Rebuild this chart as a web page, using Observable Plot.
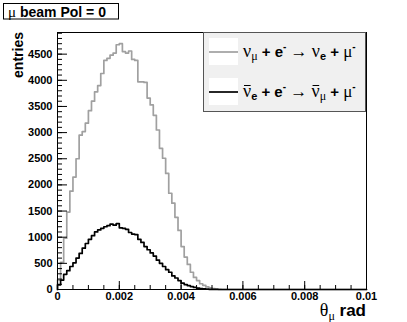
<!DOCTYPE html>
<html><head><meta charset="utf-8">
<script src="https://cdn.jsdelivr.net/npm/d3@7"></script>
<script src="https://cdn.jsdelivr.net/npm/@observablehq/plot@0.6"></script>
<style>body{margin:0;background:#fff} svg{display:block}</style>
</head><body><div id="chart"></div>
<script>
// histogram: 100 bins of width 0.0001 rad on [0, 0.01]; bins not listed are empty
const binWidth = 0.0001;
const xRange = [0, 0.01];
const yMax = 4914;
const nuMuCounts = [180, 520, 980, 1480, 1880, 2150, 2500, 2950, 3020, 3180, 3420, 3600, 3780, 3900, 4130, 4380, 4420, 4480, 4520, 4680, 4700, 4550, 4520, 4560, 4400, 4380, 3970, 3970, 3960, 3660, 3530, 3330, 3050, 2700, 2510, 2220, 1840, 1650, 1380, 1130, 820, 620, 480, 330, 230, 170, 110, 80, 50, 30, 15, 8, 4];
const nuBarCounts = [90, 180, 290, 360, 440, 510, 600, 690, 790, 880, 960, 1030, 1100, 1140, 1170, 1200, 1220, 1250, 1230, 1260, 1180, 1170, 1150, 1090, 1060, 1050, 960, 900, 820, 760, 700, 640, 560, 500, 440, 380, 330, 260, 220, 170, 120, 95, 75, 55, 40, 28, 18, 12, 7, 4, 2, 1];
const yTickLabels = [0, 500, 1000, 1500, 2000, 2500, 3000, 3500, 4000, 4500];
const xTickLabels = [0, 0.002, 0.004, 0.006, 0.008, 0.01];
const yMinorStep = 100;
const xMinorStep = 0.0005;
const titleText = "beam Pol = 0";
const yLabel = "entries";

function outline(counts) {
  const pts = [{x: 0, y: 0}];
  counts.forEach((v, i) => pts.push({x: i * binWidth, y: v}));
  pts.push({x: counts.length * binWidth, y: 0});
  pts.push({x: xRange[1], y: 0});
  return pts;
}

const W = 407, H = 322, mL = 57, mR = 41, mT = 32, mB = 33;
const pw = W - mL - mR, ph = H - mT - mB;
const yMinor = d3.range(0, yMax, yMinorStep);
const xMinor = d3.range(0, xRange[1] + 1e-9, xMinorStep);

const plot = Plot.plot({
  width: W, height: H,
  marginLeft: mL, marginRight: mR, marginTop: mT, marginBottom: mB,
  x: {domain: xRange},
  y: {domain: [0, yMax]},
  style: {fontFamily: "Liberation Sans, Arial, sans-serif", fontWeight: "bold", fontSize: "11px", color: "#000", background: "#fff"},
  marks: [
    Plot.line(outline(nuMuCounts), {x: "x", y: "y", curve: "step-after", stroke: "#a0a0a0", strokeWidth: 1.7}),
    Plot.line(outline(nuBarCounts), {x: "x", y: "y", curve: "step-after", stroke: "#000", strokeWidth: 1.7}),
    Plot.tickY(yMinor, {y: d => d, insetRight: pw - 5, stroke: "#000"}),
    Plot.tickY(yTickLabels, {y: d => d, insetRight: pw - 10, stroke: "#000"}),
    Plot.tickX(xMinor, {x: d => d, insetTop: ph - 4, stroke: "#000"}),
    Plot.tickX(xTickLabels, {x: d => d, insetTop: ph - 8, stroke: "#000"}),
    Plot.axisY(yTickLabels, {tickSize: 0, tickPadding: 5, label: null, tickFormat: d => String(d), fontWeight: "bold"}),
    Plot.axisX(xTickLabels, {tickSize: 0, tickPadding: 3, label: null, tickFormat: d => String(d), fontWeight: "bold"}),
    Plot.frame({stroke: "#000", strokeWidth: 1})
  ]
});
document.getElementById("chart").appendChild(plot);

const svg = d3.select(plot);
const SERIF = "Liberation Serif, DejaVu Serif, serif";
const SANS = "Liberation Sans, Arial, sans-serif";

function richText(g, x, y, parts, base, anchor) {
  const t = g.append("text").attr("x", x).attr("y", y).attr("text-anchor", anchor || "start")
    .attr("font-size", base).attr("fill", "#000");
  let prev = 0;
  const bars = [];
  parts.forEach(p => {
    const s = p.shift || 0;
    const ts = t.append("tspan")
      .attr("dy", s - prev)
      .attr("font-family", p.serif ? SERIF : SANS)
      .attr("font-weight", p.serif ? "normal" : "bold")
      .attr("font-size", p.size || base)
      .text(p.t);
    if (p.bar) bars.push(ts);
    prev = s;
  });
  bars.forEach(ts => {
    const b = ts.node().getBBox();
    g.append("line").attr("x1", b.x + 1).attr("x2", b.x + b.width - 0.5)
      .attr("y1", y - 11.5).attr("y2", y - 11.5).attr("stroke", "#000").attr("stroke-width", 1);
  });
  return t;
}

// title box
const tg = svg.append("g");
tg.append("rect").attr("x", 3.5).attr("y", 3.5).attr("width", 115).attr("height", 15.5)
  .attr("fill", "#fff").attr("stroke", "#000");
richText(tg, 8, 16.5, [{t: "μ", serif: true, size: 15}, {t: " " + titleText}], 14);

// y label
svg.append("text").attr("transform", `translate(23,${mT}) rotate(-90)`)
  .attr("text-anchor", "end").attr("font-family", SANS).attr("font-weight", "bold")
  .attr("font-size", 14).attr("fill", "#000").text(yLabel);

// x label
richText(svg, W - mR, 316, [
  {t: "θ", serif: true, size: 18},
  {t: "μ", serif: true, size: 12, shift: 4},
  {t: " rad", shift: 0}
], 17, "end");

// legend
const lg = svg.append("g");
lg.append("rect").attr("x", 203.5).attr("y", mT + 0.5).attr("width", 162).attr("height", 79)
  .attr("fill", "#f0f0f0").attr("stroke", "#555");
const entries = [
  {stroke: "#a0a0a0", top: 38, parts: [
    {t: "ν", serif: true, size: 18}, {t: "μ", serif: true, size: 12, shift: 3},
    {t: " + e", shift: 0}, {t: "-", size: 10, shift: -7},
    {t: " → ", serif: true, size: 17, shift: 0}, {t: "ν", serif: true, size: 18}, {t: "e", size: 11, shift: 3},
    {t: " + ", shift: 0}, {t: "μ", serif: true, size: 17}, {t: "-", size: 10, shift: -7}
  ]},
  {stroke: "#000", top: 78, parts: [
    {t: "ν", serif: true, size: 18, bar: true}, {t: "e", size: 11, shift: 3},
    {t: " + e", shift: 0}, {t: "-", size: 10, shift: -7},
    {t: " → ", serif: true, size: 17, shift: 0}, {t: "ν", serif: true, size: 18, bar: true}, {t: "μ", serif: true, size: 12, shift: 3},
    {t: " + ", shift: 0}, {t: "μ", serif: true, size: 17}, {t: "-", size: 10, shift: -7}
  ]}
];
entries.forEach(e => {
  lg.append("rect").attr("x", 209).attr("y", e.top).attr("width", 29).attr("height", 27).attr("fill", "#fff");
  lg.append("line").attr("x1", 209).attr("x2", 238).attr("y1", e.top + 14).attr("y2", e.top + 14)
    .attr("stroke", e.stroke).attr("stroke-width", 1.7);
  richText(lg, 243, e.top + 19, e.parts, 15);
});
</script>
</body></html>
